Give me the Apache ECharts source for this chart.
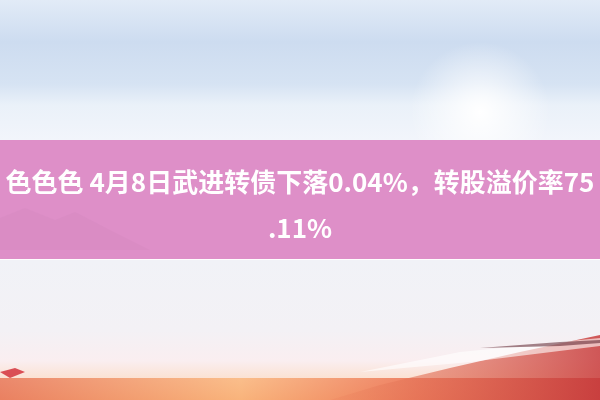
<!DOCTYPE html>
<html>
<head>
<meta charset="utf-8">
<script src="https://cdn.jsdelivr.net/npm/echarts@6/dist/echarts.min.js"></script>
<style>html,body{margin:0;padding:0;background:#fff}#c{width:600px;height:400px}</style>
</head>
<body>
<div id="c"></div>
<script>
var titleLines = ['色色色 4月8日武进转债下落0.04%，转股溢价率75', '.11%'];
var bandColor = '#de8fc8';
var textColor = '#ffffff';

var chart = echarts.init(document.getElementById('c'), null, {renderer: 'canvas'});
var graphics = [
  {type: 'rect', shape: {x: 0, y: 0, width: 600, height: 140},
   style: {fill: new echarts.graphic.LinearGradient(0, 0, 0, 1, [
     {offset: 0, color: '#e2ebf7'},
     {offset: 0.3, color: '#cddcf0'},
     {offset: 0.6, color: '#d6e3f3'},
     {offset: 0.75, color: '#eaf1f9'},
     {offset: 1, color: '#f2f5fb'}
   ])}},
  {type: 'rect', shape: {x: 0, y: 0, width: 600, height: 140},
   style: {fill: new echarts.graphic.RadialGradient(0.8, 0.8, 0.5, [
     {offset: 0, color: 'rgba(255,255,255,1)'},
     {offset: 1, color: 'rgba(255,255,255,0)'}
   ])}},
  {type: 'rect', shape: {x: 0, y: 260, width: 600, height: 140},
   style: {fill: new echarts.graphic.LinearGradient(0, 0, 0, 1, [
     {offset: 0, color: '#f1f2f7'},
     {offset: 0.5, color: '#f3f1f5'},
     {offset: 0.72, color: '#faeef0'},
     {offset: 0.86, color: '#fbe0cf'},
     {offset: 1, color: '#f4b086'}
   ])}},
  {type: 'rect', shape: {x: 0, y: 378, width: 600, height: 22},
   style: {fill: new echarts.graphic.LinearGradient(0, 0, 1, 0, [
     {offset: 0, color: 'rgba(232,120,90,0.85)'},
     {offset: 0.4, color: 'rgba(250,180,120,0.8)'},
     {offset: 0.7, color: 'rgba(235,110,80,0.85)'},
     {offset: 1, color: 'rgba(200,70,70,0.9)'}
   ])}},
  {type: 'polygon', shape: {points: [[330, 400], [380, 385], [450, 368], [520, 352], [600, 335], [600, 400]]},
   style: {fill: new echarts.graphic.LinearGradient(0, 0, 1, 0, [
     {offset: 0, color: 'rgba(240,140,100,0.5)'},
     {offset: 1, color: 'rgba(200,60,60,0.85)'}
   ])}},
  {type: 'polygon', shape: {points: [[360, 372], [460, 352], [600, 338], [600, 346], [470, 362]]},
   style: {fill: 'rgba(255,255,255,0.6)'}},
  {type: 'polygon', shape: {points: [[480, 348], [560, 342], [600, 340], [600, 343], [560, 346]]},
   style: {fill: 'rgba(90,30,40,0.55)'}},
  {type: 'polygon', shape: {points: [[0, 372], [15, 368], [25, 372], [10, 378]]},
   style: {fill: 'rgba(210,40,50,0.8)'}},
  {type: 'rect', shape: {x: 0, y: 140, width: 600, height: 119}, style: {fill: bandColor}},
  {type: 'polygon', shape: {points: [[0, 250], [0, 218], [25, 208], [55, 220], [75, 212], [110, 230], [150, 250]]},
   style: {fill: 'rgba(190,120,170,0.12)'}},
  {type: 'text', x: 300, y: 182, style: {text: titleLines[0], fill: textColor, font: 'bold 26px "Noto Sans CJK SC", sans-serif', align: 'center', verticalAlign: 'middle'}},
  {type: 'text', x: 300, y: 228, style: {text: titleLines[1], fill: textColor, font: 'bold 26px "Noto Sans CJK SC", sans-serif', align: 'center', verticalAlign: 'middle'}}
];
chart.setOption({animation: false, graphic: graphics});
</script>
</body>
</html>
